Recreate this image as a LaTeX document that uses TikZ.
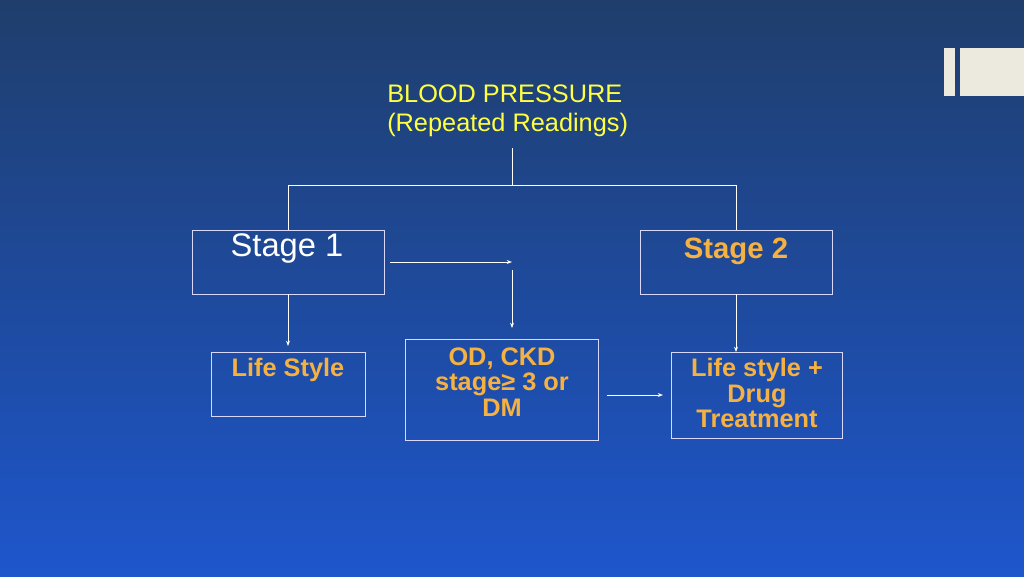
\documentclass[tikz,border=0pt]{standalone}
\usepackage{fontspec}
\setmainfont{Liberation Sans}
\usetikzlibrary{arrows.meta}
\definecolor{bgtop}{HTML}{1F3E6C}
\definecolor{bgbot}{HTML}{1E56CC}
\definecolor{ttl}{HTML}{FFFF40}
\definecolor{org}{HTML}{F5B142}
\definecolor{deco}{HTML}{ECE9DF}
\tikzset{
  box/.style={draw=white!85!blue, line width=0.6pt},
  ln/.style={draw=white, line width=0.6pt},
  arr/.style={ln,-{Stealth[length=4pt,width=3pt]}},
  lbl/.style={font=\bfseries\fontsize{19}{19}\selectfont, text=org, align=center},
}
\begin{document}
\begin{tikzpicture}[x=0.75pt,y=-0.75pt]
\useasboundingbox (0,0) rectangle (1024,576);
\shade[top color=bgtop,bottom color=bgbot] (0,0) rectangle (1024,576);
\fill[deco] (944,48) rectangle (955,96);
\fill[deco] (960,48) rectangle (1024,96);
\node[anchor=west,text=ttl,font=\fontsize{19}{21}\selectfont,inner sep=0pt] (t1) at (387,94) {BLOOD PRESSURE};
\node[anchor=west,text=ttl,font=\fontsize{19}{21}\selectfont,inner sep=0pt] (t2) at (387,125) {(Repeated Readings)};
\coordinate (c0) at (512,148);
\coordinate (c1) at (512,185);
\coordinate (cl) at (288,185);
\coordinate (cr) at (736,185);
\draw[box] (192,230) rectangle (384,294);
\coordinate (s1top) at (288,230);
\coordinate (s1bot) at (288,294);
\node[text=white,font=\fontsize{24.5}{27}\selectfont] (s1) at (287,248) {Stage 1};
\draw[box] (640,230) rectangle (832,294);
\coordinate (s2top) at (736,230);
\coordinate (s2bot) at (736,294);
\node[lbl,font=\bfseries\fontsize{22}{24}\selectfont] (s2) at (736,251) {Stage 2};
\draw[box] (211,352) rectangle (365,416);
\node[lbl] (ls) at (288,370) {Life Style};
\draw[box] (405,339) rectangle (598,440);
\node[lbl] (od) at (502,382) {OD, CKD\\stage≥ 3 or\\DM};
\draw[box] (671,352) rectangle (842,438);
\node[lbl] (dt) at (757,393) {Life style +\\Drug\\Treatment};
\draw[ln] (c0) -- (c1);
\draw[ln] (s1top) -- (cl) -- (cr) -- (s2top);
\coordinate (a1) at (390,262); \coordinate (a2) at (512,262);
\draw[arr] (a1) -- (a2);
\coordinate (b1) at (512,270); \coordinate (b2) at (512,328);
\draw[arr] (b1) -- (b2);
\coordinate (l2) at (288,346);
\draw[arr] (s1bot) -- (l2);
\coordinate (r2) at (736,352);
\draw[arr] (s2bot) -- (r2);
\coordinate (m1) at (607,395); \coordinate (m2) at (663,395);
\draw[arr] (m1) -- (m2);
\end{tikzpicture}
\end{document}
